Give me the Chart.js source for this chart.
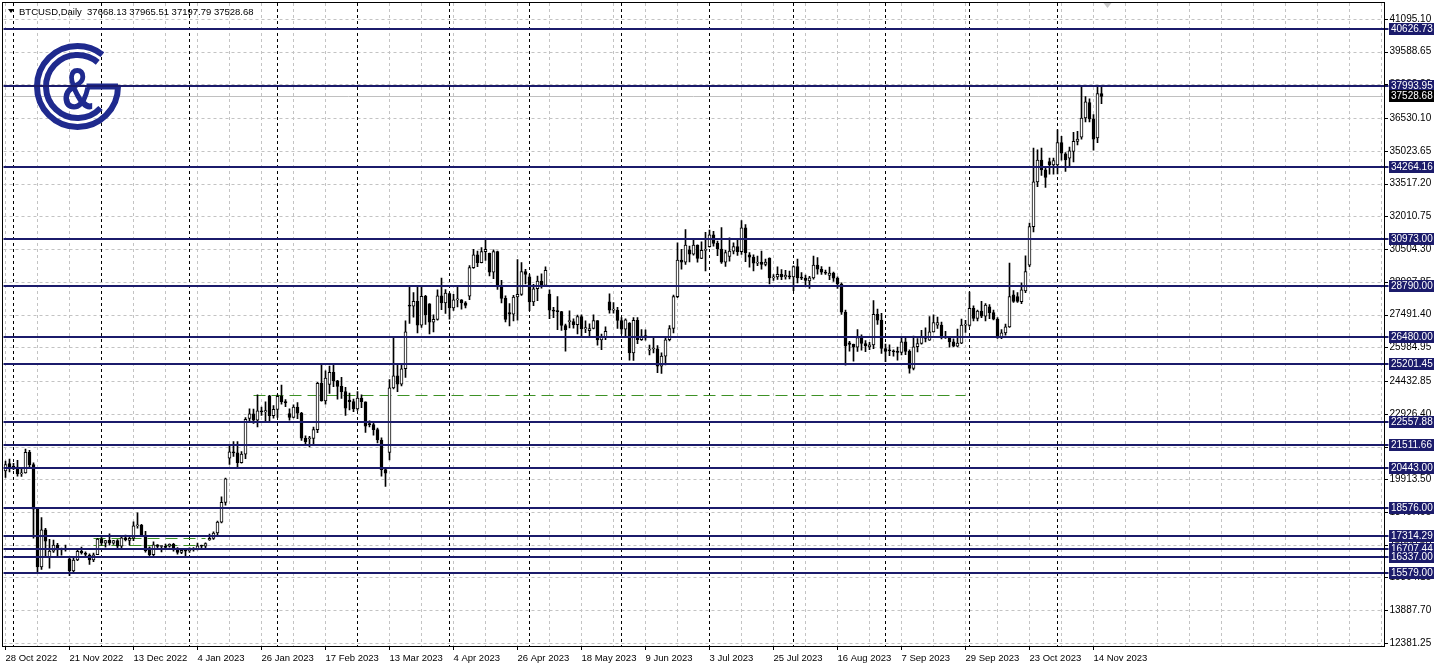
<!DOCTYPE html>
<html>
<head>
<meta charset="utf-8">
<script src="https://cdn.jsdelivr.net/npm/chart.js@4.4.0/dist/chart.umd.min.js"></script>
<style>
html,body{margin:0;padding:0;background:#fff;overflow:hidden}
canvas{display:block}
</style>
</head>
<body>
<canvas id="c" width="1437" height="668"></canvas>
<script>
// ---------- DATA ----------
const symbolTitle = 'BTCUSD,Daily';
const firstTradingDay = '2022-10-28';
// daily bars [open, high, low, close], weekdays only
const oct2022 = [
  [20300,20750,20000,20590],[20630,20840,20250,20490]
];
const nov2022 = [
  [20490,20650,20360,20480],[20480,20780,20060,20160],[20160,20380,20050,20210],[20210,21300,20190,21150],
  [21150,21250,20400,20590],[20590,20670,17200,18540],[18540,18590,15600,15880],[15880,18150,15760,17590],
  [17590,17650,16360,17070],[16330,17150,15820,16610],[16610,17120,16550,16880],[16880,16960,16400,16660],
  [16660,16750,16420,16690],[16690,16880,16600,16700],[16250,16300,15480,15700],[15700,16300,15620,16200],
  [16200,16670,16170,16600],[16600,16790,16470,16520],[16520,16580,16350,16460],[16430,16480,16000,16200],
  [16200,16520,16120,16440],[16440,17200,16440,17160]
];
const dec2022 = [
  [17160,17320,16870,16970],[16970,17100,16790,17090],[17100,17400,16880,16970],[16970,17100,16910,17090],
  [17090,17140,16690,16840],[16840,17300,16740,17220],[17220,17340,17080,17130],[17100,17240,16880,17200],
  [17200,17960,17090,17770],[17770,18370,17660,17800],[17800,17840,17300,17350],[17350,17520,16560,16630],
  [16760,16800,16300,16440],[16440,17030,16400,16900],[16900,16910,16750,16820],[16820,16860,16570,16830],
  [16830,16930,16770,16780],[16840,16940,16790,16920],[16920,16960,16600,16700],[16700,16770,16470,16550],
  [16550,16650,16490,16640],[16640,16650,16340,16600]
];
const jan2023 = [
  [16620,16760,16550,16680],[16680,16770,16610,16670],[16670,16980,16660,16850],[16850,16880,16750,16830],
  [16830,16990,16670,16950],[17120,17390,17100,17190],[17190,17490,17150,17440],[17440,17990,17310,17940],
  [17940,19100,17910,18850],[18850,19970,18720,19930],[20880,21440,20600,21180],[21180,21650,20960,21130],
  [21130,21650,20400,20680],[20680,21190,20660,21070],[21070,22750,20860,22670],[22710,23160,22520,22930],
  [22930,23140,22480,22630],[22630,23800,22320,23060],[23060,23240,22850,23010],[23010,23480,22520,23070],
  [23750,23780,22550,22840],[22840,23300,22720,23130]
];
const feb2023 = [
  [23130,23800,22760,23730],[23730,24250,23370,23490],[23490,23580,23250,23430],[22940,23160,22630,22760],
  [22760,23340,22740,23240],[23240,23440,22700,22960],[22960,22990,21700,21800],[21800,21910,21500,21630],
  [21780,21890,21400,21790],[21790,22320,21530,22200],[22200,24370,22060,24330],[24330,25250,23510,23520],
  [23520,24900,23370,24570],[24280,25120,23860,24840],[24840,25250,24180,24440],[24440,24470,23600,24190],
  [24190,24600,23630,23950],[23950,24140,22850,23190],[23560,23880,23100,23490],[23490,23600,23030,23150]
];
const mar2023 = [
  [23150,23950,23080,23650],[23650,23800,23210,23480],[23480,23480,22070,22360],[22440,22600,22320,22430],
  [22430,22550,21940,22200],[22200,22270,21590,21720],[21720,21820,20060,20360],[20360,20370,19590,20190],
  [21150,24500,20800,24120],[24120,26400,24070,24670],[24670,25240,23950,24290],[24290,25200,24210,25000],
  [25000,27200,24600,26700],[27900,28780,27090,27880],[27880,28500,27370,28100],[28100,28830,26650,27000],
  [27000,28760,26900,28330],[28330,28380,27040,27490],[27990,28000,26600,27140],[27140,27480,26700,27270],
  [27270,28630,27240,28350],[28350,29170,27720,28030],[28030,28640,27550,28480]
];
const apr2023 = [
  [28460,28480,27280,27800],[27800,28430,27680,28170],[28170,28750,27840,28170],[28170,28180,27740,28030],
  [28030,28090,27800,27910],[28340,29750,28180,29650],[29650,30500,29620,30240],[30240,30410,29700,29880],
  [29880,30580,29870,30390],[30390,31000,29980,30490],[30310,30320,29270,29440],[29440,30470,29150,30390],
  [30390,30410,28650,28820],[28820,29070,28030,28240],[28240,28360,27150,27270],[27590,28000,26970,27510],
  [27510,28380,27200,28300],[28300,30020,27240,28420],[28420,29880,28380,29470],[29470,29570,28900,29340]
];
const may2023 = [
  [29230,29330,27670,28080],[28080,28880,27900,28680],[28680,29260,28130,29030],[29030,29370,28710,28840],
  [28840,29690,28810,29530],[28440,28630,27310,27700],[27700,27830,27350,27650],[27650,28320,26800,27630],
  [27630,27640,26760,26990],[26990,27060,25810,26800],[27170,27660,26880,27170],[27170,27300,26870,27030],
  [27030,27470,26600,27400],[27400,27480,26430,26830],[26830,27200,26660,26890],[26750,27070,26520,26850],
  [26850,27480,26830,27220],[27220,27220,26090,26330],[26330,26600,25880,26480],[26480,26930,26340,26720],
  [28080,28450,27560,27700],[27700,28040,27560,27700],[27700,27830,26850,27220]
];
const jun2023 = [
  [27220,27350,26600,26820],[26820,27300,26520,27250],[27100,27130,25400,25730],[25730,27350,25380,27230],
  [27230,27360,26150,26340],[26340,26800,26300,26500],[26500,26790,26310,26480],[25850,26090,25640,25910],
  [25910,26420,25730,25920],[25920,26070,24820,25120],[25120,25730,24790,25580],[25580,26470,25180,26330],
  [26340,26990,26280,26850],[26850,28390,26650,28320],[28320,30800,28270,30000],[30000,30500,29580,29900],
  [29900,31400,29800,30690],[30470,30650,29920,30270],[30270,31000,30230,30690],[30690,30700,29900,30080],
  [30080,30840,30060,30450],[30450,31280,29500,30480]
];
const jul2023 = [
  [30620,31380,30590,31160],[31160,31320,30640,30770],[30770,30880,30200,30510],[30510,31500,29850,29900],
  [29900,30450,29710,30350],[30170,31030,29950,30410],[30410,30800,30280,30620],[30620,30980,30220,30390],
  [30390,31820,30260,31480],[31480,31640,29930,30330],[30240,30340,29680,30140],[30140,30240,29500,29860],
  [29860,30190,29740,29910],[29910,30420,29580,29800],[29800,30050,29730,29910],[30090,30100,28900,29180],
  [29180,29330,29060,29230],[29230,29690,29110,29350],[29350,29560,29100,29220],[29220,29530,29120,29310],
  [29280,29490,29130,29230]
];
const aug2023 = [
  [29230,29740,28590,29700],[29700,30050,28950,29180],[29180,29420,29100,29170],[29170,29310,28800,29070],
  [29040,29250,28700,29180],[29180,30190,29120,29770],[29770,30120,29350,29580],[29580,29700,29340,29440],
  [29440,29540,29340,29400],[29300,29680,29100,29400],[29400,29450,29020,29170],[29170,29230,28700,28900],
  [28900,28950,27500,27600],[27600,27700,25170,26050],[26190,26260,25810,26120],[26120,26140,25350,25990],
  [25990,26800,25800,26430],[26430,26560,25860,26160],[26160,26300,25780,26060],[26000,26220,25880,26100],
  [26100,28140,25920,27500],[27500,27750,27040,27240],[27240,27550,25700,25930]
];
const sep2023 = [
  [25930,26130,25330,25800],[25870,26100,25600,25830],[25830,25870,25580,25780],[25780,26000,25400,25750],
  [25750,26420,25640,26240],[26240,26420,25650,25800],[25800,25870,24800,25020],[25020,26500,24950,26010],
  [26010,26390,25770,26160],[26160,26770,26130,26470],[26470,26880,26240,26400],[26320,27400,26300,26700],
  [26700,27480,26680,27120],[27010,27380,26850,27120],[27010,27150,26370,26470],[26470,26720,26400,26420],
  [26400,26430,25990,26240],[26240,26380,26010,26040],[26040,26830,26000,26180],[26180,27290,26150,27010],
  [27010,27230,26670,27050]
];
const oct2023 = [
  [26990,28530,26950,27780],[27780,27900,27200,27320],[27320,27700,27200,27650],[27650,28100,27350,27420],
  [27420,28000,27200,27930],[27850,27950,27300,27580],[27580,27700,27250,27280],[27280,27350,26400,26470],
  [26470,26800,26380,26650],[26650,27050,26550,26930],[26930,29860,26900,28320],[28400,28600,28050,28100],
  [28320,28500,28050,28100],[28090,28950,28000,28630],[28580,30200,28500,29470],[29770,31700,29700,31540],
  [31540,35160,31300,33600],[33600,35070,33380,34600],[34600,35160,33900,34150],[34150,34300,33340,33800],
  [34530,34700,33950,34380],[34380,34700,33950,34580]
];
const nov2023 = [
  [34380,35990,33970,35410],[35410,35700,34600,34920],[34890,34950,34080,34610],[34690,35200,34300,35030],
  [35000,35880,34520,35460],[35460,35920,35300,35570],[35660,37970,35560,36540],[36540,37520,36360,37280],
  [37250,37420,36360,36500],[36500,36700,35060,35570],[35620,37970,35400,37668.13],
  [37668.13,37965.51,37197.79,37528.68]
];
const bars = [].concat(oct2022, nov2022, dec2022, jan2023, feb2023, mar2023, apr2023,
  may2023, jun2023, jul2023, aug2023, sep2023, oct2023, nov2023);

// price axis labels (right scale)
const yTickValues = [41095.10, 39588.65, 38082.20, 36530.10, 35023.65, 33517.20, 32010.75, 30504.30,
  28997.85, 27491.40, 25984.95, 24432.85, 22926.40, 21419.95, 19913.50, 18407.05, 16900.60,
  15394.15, 13887.70, 12381.25];
const yMax = 41831.42;
const yMin = 12240.56;
// horizontal support / resistance levels
const levelValues = [40626.73, 37993.95, 34264.16, 30973.00, 28790.00, 26480.00, 25201.45,
  22557.88, 21511.66, 20443.00, 18576.00, 17314.29, 16707.44, 16337.00, 15579.00];
// green dashed trend lines: price, first bar index, last bar index
const greenLinePrices = [23790, 17220, 16880];
const greenLineStart = [62, 22, 22];
const greenLineEnd = [240, 50, 50];
const totalSlots = 345;      // bars + empty space on the right
const labelEvery = 16;       // date label step (bars)
const gridEvery = 8;         // vertical grid step (bars)

// ---------- DERIVED ----------
const monthNames = ['Jan','Feb','Mar','Apr','May','Jun','Jul','Aug','Sep','Oct','Nov','Dec'];
const dates = [];
(function(){
  const d = new Date(firstTradingDay + 'T00:00:00Z');
  while (dates.length < bars.length) {
    const wd = d.getUTCDay();
    if (wd !== 0 && wd !== 6) dates.push(new Date(d.getTime()));
    d.setUTCDate(d.getUTCDate() + 1);
  }
})();
const dateLabels = dates.map(dt => dt.getUTCDate() + ' ' + monthNames[dt.getUTCMonth()] + ' ' + dt.getUTCFullYear());
const slotLabels = dateLabels.concat(new Array(totalSlots - bars.length).fill(''));
const monthStarts = [];
for (let i = 1; i < dates.length; i++) if (dates[i].getUTCMonth() !== dates[i-1].getUTCMonth()) monthStarts.push(i);
const last = bars[bars.length - 1];
const lastPrice = last[3];

const NAVY = '#1b1b6b';
const LOGO = '#1f2a8e';
const GREEN = '#3d9125';
const FONT = '"Liberation Sans", Arial, sans-serif';

function hline(ctx, x1, x2, y){ ctx.beginPath(); ctx.moveTo(x1, y); ctx.lineTo(x2, y); ctx.stroke(); }
function vline(ctx, x, y1, y2){ ctx.beginPath(); ctx.moveTo(x, y1); ctx.lineTo(x, y2); ctx.stroke(); }

const mt4 = {
  id: 'mt4',
  beforeDatasetsDraw(chart) {
    const {ctx, chartArea: a, scales: {x, y}} = chart;
    ctx.save();
    ctx.beginPath(); ctx.rect(a.left, a.top, a.right - a.left, a.bottom - a.top); ctx.clip();
    ctx.lineWidth = 1;
    // grid
    ctx.strokeStyle = '#c3c3c3';
    ctx.setLineDash([3, 3]);
    yTickValues.forEach(v => hline(ctx, a.left, a.right, Math.round(y.getPixelForValue(v)) + 0.5));
    for (let i = 0; i < totalSlots; i += gridEvery) {
      vline(ctx, Math.floor(x.getPixelForValue(i)) + 0.5, a.top, a.bottom);
    }
    // month separators
    ctx.strokeStyle = '#000';
    ctx.setLineDash([3, 3]);
    monthStarts.forEach(i => vline(ctx, Math.floor(x.getPixelForValue(i)) + 0.5, a.top, a.bottom));
    // current price line
    ctx.setLineDash([]);
    ctx.strokeStyle = '#c0c0c0';
    hline(ctx, a.left, a.right, Math.round(y.getPixelForValue(lastPrice)) + 0.5);
    // green dashed lines
    ctx.strokeStyle = GREEN;
    ctx.setLineDash([12, 6]);
    greenLinePrices.forEach((p, k) => {
      hline(ctx, x.getPixelForValue(greenLineStart[k]), x.getPixelForValue(greenLineEnd[k]),
        Math.round(y.getPixelForValue(p)) + 0.5);
    });
    ctx.setLineDash([]);
    // logo
    const cx = 77.5, cy = 86.5;
    ctx.strokeStyle = LOGO; ctx.fillStyle = LOGO; ctx.lineWidth = 6;
    ctx.beginPath(); ctx.arc(cx, cy, 40.5, 0, (308 / 180) * Math.PI); ctx.stroke();
    ctx.fillRect(cx + 9, cy - 3, 31.5, 6);
    ctx.beginPath(); ctx.arc(cx, cy, 31.5, (43 / 180) * Math.PI, (310 / 180) * Math.PI); ctx.stroke();
    ctx.save();
    ctx.translate(cx, 109);
    ctx.scale(0.74, 1);
    ctx.font = 'bold 60px ' + FONT;
    ctx.textAlign = 'center'; ctx.textBaseline = 'alphabetic';
    ctx.fillText('&', 0, 0);
    ctx.restore();
    ctx.restore();
  },
  afterDatasetsDraw(chart) {
    const {ctx, chartArea: a, scales: {y}} = chart;
    ctx.save();
    ctx.strokeStyle = NAVY; ctx.lineWidth = 2;
    levelValues.forEach(v => hline(ctx, a.left, a.right + 5, Math.round(y.getPixelForValue(v))));
    ctx.restore();
  },
  afterDraw(chart) {
    const {ctx, chartArea: a, scales: {x, y}} = chart;
    ctx.save();
    ctx.lineWidth = 1; ctx.strokeStyle = '#000';
    // frame
    ctx.strokeRect(a.left - 1, a.top - 0.5, a.right - a.left + 2, a.bottom - a.top + 1);
    // tick marks
    yTickValues.forEach(v => hline(ctx, a.right + 1, a.right + 4.5, Math.round(y.getPixelForValue(v)) + 0.5));
    for (let i = 0; i < bars.length; i += labelEvery) {
      vline(ctx, Math.floor(x.getPixelForValue(i)) + 0.5, a.bottom + 1, a.bottom + 4);
    }
    // level boxes
    ctx.font = '10px ' + FONT;
    ctx.textBaseline = 'middle'; ctx.textAlign = 'left';
    const box = (v, bg) => {
      const yy = Math.round(y.getPixelForValue(v));
      ctx.fillStyle = bg;
      ctx.fillRect(a.right + 5.5, yy - 6, 45, 12);
      ctx.fillStyle = '#fff';
      ctx.fillText(v.toFixed(2), a.right + 7.5, yy + 0.5);
    };
    levelValues.forEach(v => box(v, NAVY));
    box(lastPrice, '#000');
    // header
    ctx.fillStyle = '#000';
    ctx.beginPath(); ctx.moveTo(8, 9); ctx.lineTo(14, 9); ctx.lineTo(11, 13); ctx.closePath(); ctx.fill();
    ctx.font = '9.5px ' + FONT;
    ctx.textBaseline = 'alphabetic';
    ctx.fillText(symbolTitle + '  ' + last.map(v => v.toFixed(2)).join(' '), 19, 15);
    // chart shift marker
    ctx.fillStyle = '#c8c8c8';
    const sx = Math.floor(x.getPixelForValue(275.5)) + 0.5;
    ctx.beginPath(); ctx.moveTo(sx - 4, 3); ctx.lineTo(sx + 4, 3); ctx.lineTo(sx, 8); ctx.closePath(); ctx.fill();
    ctx.restore();
  }
};

new Chart(document.getElementById('c'), {
  type: 'bar',
  data: {
    labels: slotLabels,
    datasets: [
      {
        label: 'wick',
        data: bars.map(b => [b[2], b[1]]),
        backgroundColor: '#000',
        borderWidth: 0,
        barThickness: 1,
        grouped: false,
        minBarLength: 1,
        order: 2
      },
      {
        label: 'body',
        data: bars.map(b => [b[0], b[3]]),
        backgroundColor: bars.map(b => b[3] >= b[0] ? '#fff' : '#000'),
        borderColor: '#000',
        borderWidth: 1,
        borderSkipped: false,
        barThickness: 3,
        grouped: false,
        minBarLength: 1,
        order: 1
      }
    ]
  },
  options: {
    responsive: false,
    animation: false,
    devicePixelRatio: 1,
    events: [],
    layout: { padding: { left: 3.5, top: 3, right: 0, bottom: 0 } },
    plugins: { legend: { display: false }, tooltip: { enabled: false } },
    scales: {
      x: {
        type: 'category',
        offset: true,
        grid: { display: false, drawTicks: false },
        border: { display: false },
        afterBuildTicks: s => { s.ticks = s.ticks.filter(t => t.value % labelEvery === 0 && t.value < bars.length); },
        afterFit: s => { s.height = 22; s.paddingLeft = 0; s.paddingRight = 0; },
        ticks: {
          autoSkip: false, maxRotation: 0, minRotation: 0, align: 'start', padding: 7,
          color: '#000', font: { family: FONT, size: 9.5 },
          callback: function(v) { return this.getLabelForValue(v); }
        }
      },
      y: {
        position: 'right',
        min: yMin, max: yMax,
        grid: { display: false, drawTicks: false },
        border: { display: false },
        afterBuildTicks: s => { s.ticks = yTickValues.map(v => ({ value: v })); },
        afterFit: s => { s.width = 53.5; s.paddingTop = 0; s.paddingBottom = 0; },
        ticks: {
          padding: 6, color: '#000', font: { family: FONT, size: 10 },
          callback: v => Number(v).toFixed(2)
        }
      }
    }
  },
  plugins: [mt4]
});
</script>
</body>
</html>
